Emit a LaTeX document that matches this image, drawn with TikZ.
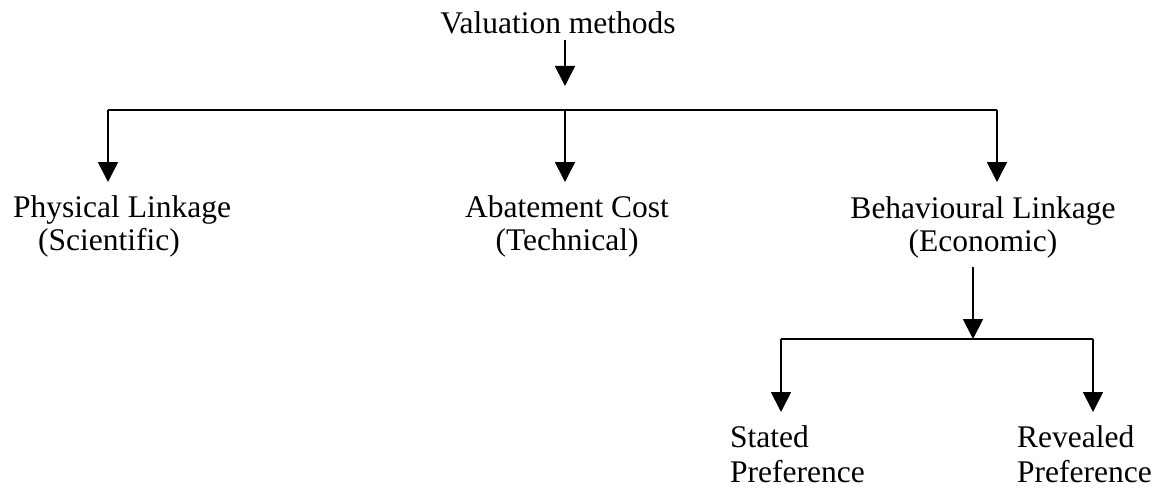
\documentclass[tikz,border=0pt]{standalone}
\usepackage{fontspec}
\setmainfont{Liberation Serif}
\usetikzlibrary{arrows.meta}
\tikzset{
  lbl/.style={inner sep=0pt, font=\fontsize{31.5}{33}\selectfont},
  lblb/.style={inner sep=0pt, font=\fontsize{31.5}{35}\selectfont},
  line/.style={line width=1.8pt},
  arr/.style={line width=1.8pt, -{Triangle[length=20pt,width=20pt]}}
}
\begin{document}
\begin{tikzpicture}[x=1pt,y=-1pt]
\useasboundingbox (0,0) rectangle (1164,492);
% nodes
\node[lbl, anchor=north] (val) at (558,11.5) {Valuation methods};
\node[lbl, anchor=north west, align=left] (phys) at (13,195.5) {Physical Linkage\\\hspace*{25pt}(Scientific)};
\node[lbl, anchor=north, align=center] (abate) at (567,195.5) {Abatement Cost\\(Technical)};
\node[lbl, anchor=north, align=center] (beh) at (983,196.5) {Behavioural Linkage\\(Economic)};
\node[lblb, anchor=north west, align=left] (stated) at (730,425.5) {Stated\\Preference};
\node[lblb, anchor=north west, align=left] (revealed) at (1017,425.5) {Revealed\\Preference};
% junction coordinates
\coordinate (jtop) at (565,110);
\coordinate (jl) at (108,110);
\coordinate (jr) at (997,110);
\coordinate (kmid) at (973,339);
\coordinate (kl) at (781,339);
\coordinate (kr) at (1093,339);
% connectors
\draw[arr] ([yshift=-6pt]val.south -| jtop) -- ([yshift=24pt]jtop);
\draw[line] (jl) -- (jr);
\draw[arr] (jl) -- ([yshift=13.5pt]phys.north -| jl);
\draw[arr] (jtop) -- ([yshift=13.5pt]abate.north -| jtop);
\draw[arr] (jr) -- ([yshift=14.5pt]beh.north -| jr);
\draw[arr] ([yshift=-9pt]beh.south -| kmid) -- (kmid);
\draw[line] (kl) -- (kr);
\draw[arr] (kl) -- ([yshift=13.5pt]stated.north -| kl);
\draw[arr] (kr) -- ([yshift=13.5pt]revealed.north -| kr);
\end{tikzpicture}
\end{document}
